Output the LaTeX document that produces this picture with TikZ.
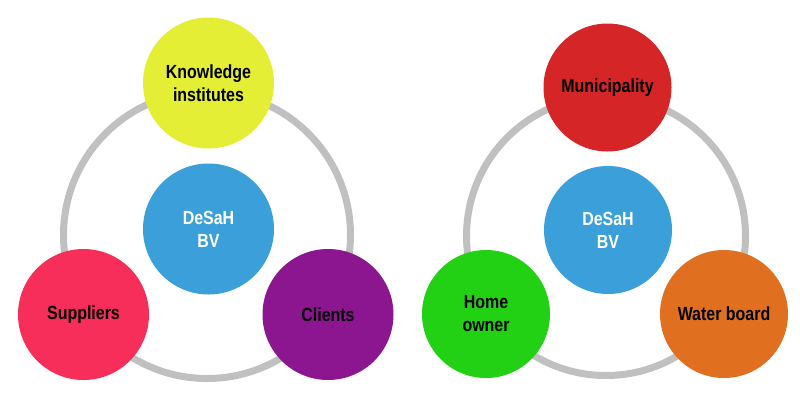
\documentclass[tikz,border=0pt]{standalone}
\usepackage{fontspec}
\setmainfont{Liberation Sans}[FakeStretch=0.84]
\usepackage{xcolor}
\usepackage{tikz}
\usetikzlibrary{positioning}

\definecolor{ringgray}{HTML}{C0C0C0}
\definecolor{coreblue}{HTML}{3BA0DA}
\definecolor{knowyellow}{HTML}{E3EE34}
\definecolor{suppink}{HTML}{F72D5A}
\definecolor{clipurple}{HTML}{8B168F}
\definecolor{munred}{HTML}{D62527}
\definecolor{homegreen}{HTML}{22D014}
\definecolor{waterorange}{HTML}{E07020}

\begin{document}
\begin{tikzpicture}[
  x=1pt, y=-1pt,
  font=\fontsize{19}{23}\selectfont\bfseries,
  every node/.style={align=center},
  actor/.style={circle, minimum size=#1, inner sep=0pt, text=black},
  actor/.default=131pt,
  core/.style={circle, minimum size=131pt, inner sep=0pt, fill=coreblue, text=white},
  ring/.style={draw=ringgray, line width=7pt}
]
\useasboundingbox (0,0) rectangle (800,400);
% left group
\coordinate (ringL) at (207,235);
\draw[ring] (ringL) circle (143.5);
\node[core] (coreL) at (208.5,229) {DeSaH\\BV};
\node[actor, fill=knowyellow] (know) at (208.5,83) {Knowledge\\institutes};
\node[actor, fill=suppink] (supp) at (83.5,314.5) {Suppliers};
\node[actor, fill=clipurple] (cli) at (328,314.5) {Clients};
% right group
\coordinate (ringR) at (606,236);
\draw[ring] (ringR) circle (139.5);
\node[core, minimum size=128pt] (coreR) at (608,230) {DeSaH\\BV};
\node[actor=128pt, fill=munred] (mun) at (607.5,87.5) {Municipality};
\node[actor=128pt, fill=homegreen] (home) at (486,314) {Home\\owner};
\node[actor=128pt, fill=waterorange] (water) at (724,314) {Water board};
\end{tikzpicture}
\end{document}
